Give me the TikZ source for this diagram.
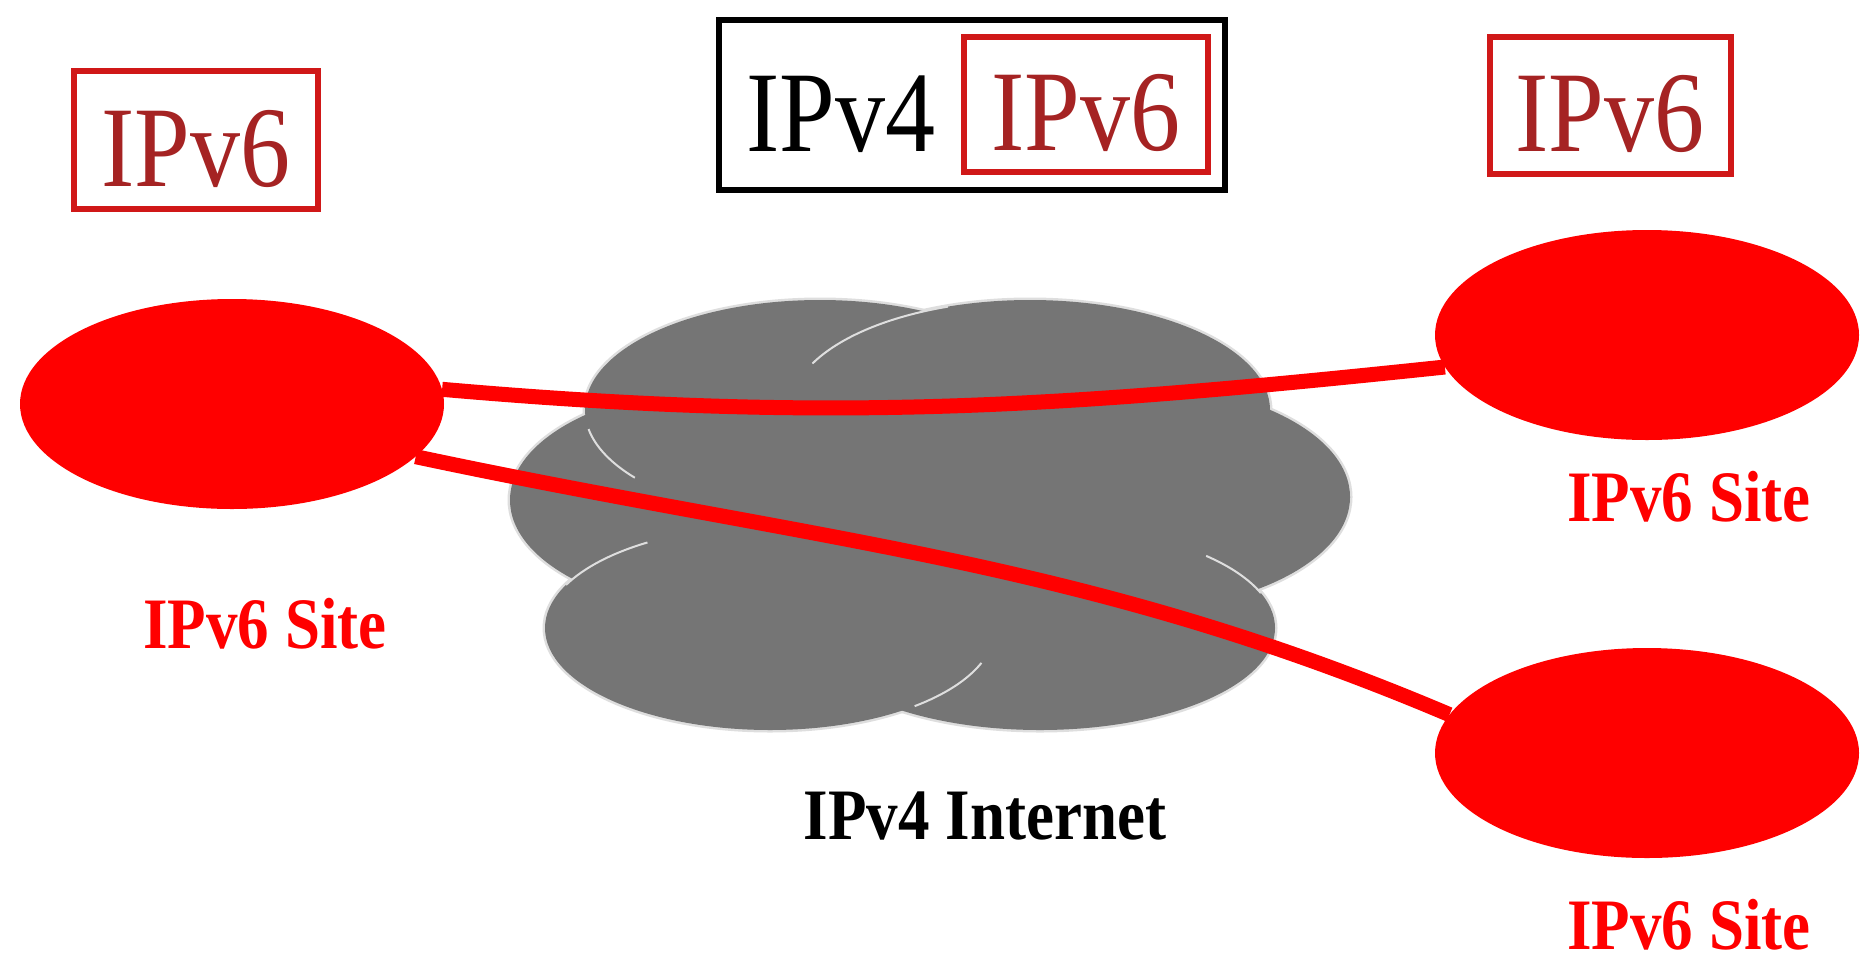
\documentclass[tikz,border=0pt]{standalone}
\usepackage{fontspec}
\setmainfont{Liberation Serif}
\usetikzlibrary{shapes.geometric}

\definecolor{tagred}{RGB}{208,24,24}
\definecolor{tagtext}{RGB}{165,35,35}
\definecolor{cloudgray}{RGB}{117,117,117}
\definecolor{cloudedge}{RGB}{222,222,222}

\newcommand{\stretched}[1]{\scalebox{1}[1.15]{#1}}

\tikzset{
  tagbox/.style={draw=tagred, line width=6, text=tagtext, inner sep=0,
    minimum width=244, minimum height=138, text height=92pt, text depth=0pt,
    font=\fontsize{100}{110}\selectfont},
  site/.style={ellipse, fill=red, inner sep=0, minimum width=424, minimum height=210},
  sitelabel/.style={text=red, inner sep=0, font=\bfseries\fontsize{63}{70}\selectfont},
  tunnel/.style={red, line width=15}
}

\begin{document}
\begin{tikzpicture}[x=1pt, y=1pt]
\useasboundingbox (0,0) rectangle (1865,-962);

%protocol tags
\node[tagbox] (lefttag) at (196,-140) {\stretched{IPv6}};
\node[draw=black, line width=6, inner sep=0, minimum width=506, minimum height=170] (stackbox) at (972,-105) {};
\node[inner sep=0, font=\fontsize{100}{110}\selectfont] (v4text) at (841,-114) {\stretched{IPv4}};
\node[tagbox, minimum width=244, minimum height=135] (stacktag) at (1086,-104) {\stretched{IPv6}};
\node[tagbox, minimum width=241, minimum height=137] (righttag) at (1610,-105) {\stretched{IPv6}};

%ipv4 cloud
\foreach \cx/\cy/\rx/\ry in {820/410/235/110, 1030/410/240/110, 740/500/230/115,
    1120/497/230/115, 770/628/225/102, 1040/628/235/102}
  \draw[cloudedge, line width=5] (\cx,-\cy) ellipse [x radius=\rx, y radius=\ry];
\foreach \cx/\cy/\rx/\ry in {820/410/235/110, 1030/410/240/110, 740/500/230/115,
    1120/497/230/115, 770/628/225/102, 1040/628/235/102}
  \fill[cloudgray] (\cx,-\cy) ellipse [x radius=\rx, y radius=\ry];
% seams between the lobes
\foreach \cx/\cy/\rx/\ry/\ta/\tb in {1030/410/240/110/155/110, 820/410/235/110/190/218,
    770/628/225/102/123/155, 1040/628/235/102/45/20, 770/628/225/102/-20/-50}
  \draw[cloudedge, line width=2] (\cx,-\cy) ++(\ta:{\rx} and {\ry})
    arc[start angle=\ta, end angle=\tb, x radius=\rx, y radius=\ry];
\node[sitelabel, text=black] (inetlabel) at (985,-816) {\stretched{IPv4 Internet}};

%sites
\node[site] (siteA) at (232,-404) {};
\node[site] (siteB) at (1647,-335) {};
\node[site] (siteC) at (1647,-753) {};
\node[sitelabel] (labelA) at (265,-624) {\stretched{IPv6 Site}};
\node[sitelabel] (labelB) at (1689,-497) {\stretched{IPv6 Site}};
\node[sitelabel] (labelC) at (1689,-925) {\stretched{IPv6 Site}};

%tunnels
\draw[tunnel] (siteA.4) .. controls +(-5:390) and +(186:390) .. (siteB.189);
\draw[tunnel] (siteA.-16) .. controls +(-12:410) and +(157:400) .. (siteC.169);
\end{tikzpicture}
\end{document}
